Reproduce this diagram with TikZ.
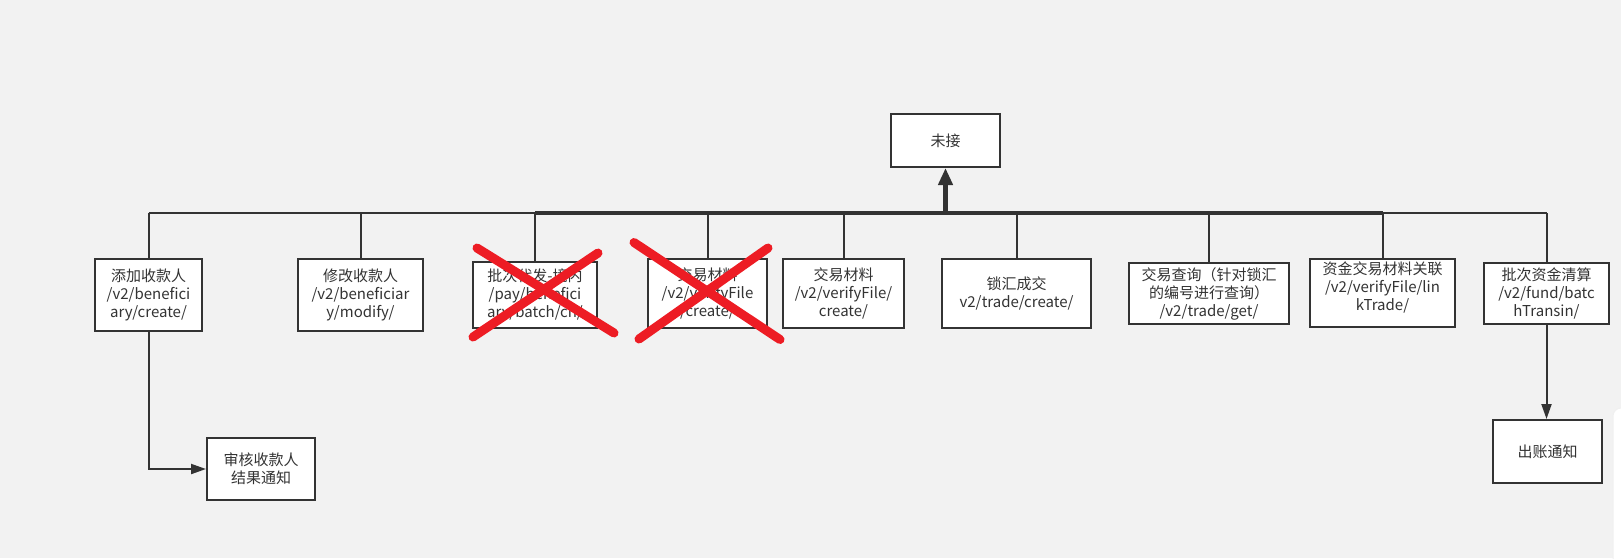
\documentclass[tikz,border=0pt]{standalone}
\usepackage{fontspec}
\setmainfont{Noto Sans CJK SC}
\usepackage{xcolor}
\usepackage{tikz}
\usetikzlibrary{arrows.meta, calc}
\definecolor{bg}{HTML}{F2F2F2}
\definecolor{ink}{HTML}{333333}
\definecolor{crossred}{HTML}{ED1C24}

\begin{document}
\begin{tikzpicture}[
    x=1pt, y=-1pt,
    box/.style={draw=ink, fill=white, line width=2pt, text=ink, align=center, inner sep=0pt, font=\fontsize{15}{18}\selectfont},
    boxtext/.style={text=ink, align=center, inner sep=0pt, font=\fontsize{15}{18}\selectfont},
    link/.style={draw=ink, line width=2pt},
    trunk/.style={draw=ink, line width=4pt},
    flow/.style={-{Triangle[length=15pt, width=10pt]}, draw=ink, line width=2pt},
    up/.style={-{Triangle[length=17pt, width=14pt]}, draw=ink, line width=5pt},
    strike/.style={draw=crossred, line width=9pt, line cap=round},
    panel/.style={fill=white, draw=black!6, line width=1pt}
]

    % Altezza della linea orizzontale comune
    \def\busy{213}

    % 0. Sfondo e cornice
    \useasboundingbox[fill=bg] (0,0) rectangle (1621,558);
    \begin{scope}
        \clip (0,0) rectangle (1621,558);
        \draw[panel, rounded corners=8pt] (1613,408) rectangle (1640,580);
    \end{scope}

    % 1. Riquadri
    \node[box, minimum width=109pt, minimum height=53pt] (top) at (945.5,140.5) {未接};

    \node[box, minimum width=107pt, minimum height=72pt] (b1) at (148.5,295) {添加收款人\\/v2/benefici\\ary/create/};
    \node[box, minimum width=125pt, minimum height=72pt] (b2) at (360.5,295) {修改收款人\\/v2/beneficiar\\y/modify/};
    \node[box, minimum width=124pt, minimum height=66pt] (b3) at (535,295) {批次代发-境内\\/pay/benefici\\ary/batch/cn/};
    \node[box, minimum width=119pt, minimum height=69pt] (b4) at (707.5,293.5) {交易材料\\/v2/verifyFile\\/create/};
    \node[box, minimum width=121pt, minimum height=69pt] (b5) at (843.5,293.5) {交易材料\\/v2/verifyFile/\\create/};
    \node[box, minimum width=149pt, minimum height=69pt] (b6) at (1016.5,293.5) {锁汇成交\\v2/trade/create/};
    \node[box, minimum width=160pt, minimum height=61pt] (b7) at (1209,293.5) {交易查询（针对锁汇\\的编号进行查询）\\/v2/trade/get/};
    \node[box, minimum width=145pt, minimum height=68pt] (b8) at (1382.5,293) {};
    \node[boxtext] (b8t) at (1382.5,287) {资金交易材料关联\\/v2/verifyFile/lin\\kTrade/};
    \node[box, minimum width=125pt, minimum height=61pt] (b9) at (1546.5,293.5) {批次资金清算\\/v2/fund/batc\\hTransin/};

    \node[box, minimum width=108pt, minimum height=62pt] (audit) at (261,469) {审核收款人\\结果通知};
    \node[box, minimum width=109pt, minimum height=63pt] (bill) at (1547.5,451.5) {出账通知};

    % 2. Collegamenti verso la linea comune
    \coordinate (bus) at (0,\busy);
    \foreach \b in {b1,b2,b3,b4,b5,b6,b7,b8,b9}
        \draw[link] (\b.north) -- (\b.north |- bus);
    \draw[link] (b1.north |- bus) -- (b9.north |- bus);
    \draw[trunk] (b3.north |- bus) -- (b8.north |- bus);
    \draw[up] (top.south |- bus) -- (top.south);

    % 3. Frecce verso le notifiche
    \draw[flow] (b1.south) |- (audit.west);
    \draw[flow] (b9.south) -- (b9.south |- bill.north);

    % 4. Croci rosse sopra i riquadri annullati
    \draw[strike] (477,248) -- (614,333);
    \draw[strike] (598,253) -- (473,337);
    \draw[strike] (634,242.5) -- (780,339.5);
    \draw[strike] (768,248) -- (639,339);

\end{tikzpicture}
\end{document}
